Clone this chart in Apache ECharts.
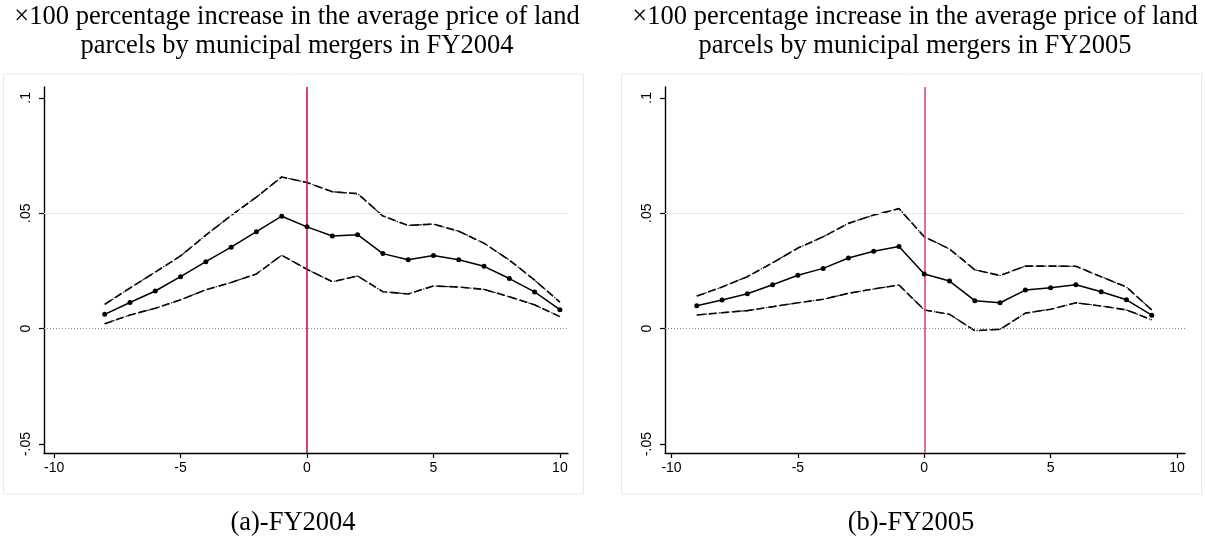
<!DOCTYPE html>
<html>
<head>
<meta charset="utf-8">
<script src="https://cdn.jsdelivr.net/npm/echarts@6/dist/echarts.min.js"></script>
<style>
  html, body { margin: 0; padding: 0; background: #fff; }
  #chart { width: 1205px; height: 548px; }
</style>
</head>
<body>
<div id="chart"></div>
<script>
// Event-study estimates: relative year vs. effect on land price
const yearsFY2004 = [-8, -7, -6, -5, -4, -3, -2, -1, 0, 1, 2, 3, 4, 5, 6, 7, 8, 9, 10];
const estFY2004   = [0.0062, 0.0113, 0.0163, 0.0225, 0.0290, 0.0353, 0.0420, 0.0487, 0.0441, 0.0401, 0.0407, 0.0325, 0.0298, 0.0317, 0.0298, 0.0270, 0.0217, 0.0159, 0.0082];
const upperFY2004 = [0.0105, 0.0176, 0.0245, 0.0315, 0.0405, 0.0490, 0.0570, 0.0657, 0.0633, 0.0593, 0.0585, 0.0488, 0.0447, 0.0453, 0.0422, 0.0370, 0.0297, 0.0210, 0.0115];
const lowerFY2004 = [0.0021, 0.0059, 0.0088, 0.0125, 0.0168, 0.0200, 0.0237, 0.0318, 0.0257, 0.0203, 0.0228, 0.0160, 0.0150, 0.0185, 0.0180, 0.0170, 0.0138, 0.0103, 0.0052];

const yearsFY2005 = [-9, -8, -7, -6, -5, -4, -3, -2, -1, 0, 1, 2, 3, 4, 5, 6, 7, 8, 9];
const estFY2005   = [0.0099, 0.0124, 0.0151, 0.0190, 0.0231, 0.0261, 0.0306, 0.0335, 0.0356, 0.0237, 0.0206, 0.0121, 0.0112, 0.0167, 0.0177, 0.0190, 0.0160, 0.0125, 0.0058];
const upperFY2005 = [0.0141, 0.0180, 0.0225, 0.0285, 0.0349, 0.0398, 0.0456, 0.0492, 0.0520, 0.0398, 0.0345, 0.0255, 0.0230, 0.0271, 0.0271, 0.0270, 0.0225, 0.0180, 0.0081];
const lowerFY2005 = [0.0059, 0.0069, 0.0078, 0.0095, 0.0112, 0.0127, 0.0153, 0.0172, 0.0189, 0.0081, 0.0062, -0.0009, -0.0003, 0.0067, 0.0084, 0.0112, 0.0098, 0.0081, 0.0038];

const xTicks = [-10, -5, 0, 5, 10];
const yTicks = [-0.05, 0, 0.05, 0.1];

const titleLine1 = '\u00d7100 percentage increase in the average price of land';
const titleLine2FY2004 = 'parcels by municipal mergers in FY2004';
const titleLine2FY2005 = 'parcels by municipal mergers in FY2005';
const captionFY2004 = '(a)-FY2004';
const captionFY2005 = '(b)-FY2005';

const pair = (xs, ys) => xs.map((x, i) => [x, ys[i]]);
const fmtY = v => (v === 0 ? '0' : String(v).replace('0.', '.'));

const serif = '"Liberation Serif", "Times New Roman", serif';
const sans = '"Liberation Sans", Arial, sans-serif';

function xAxis(gridIndex, min, max) {
  return {
    type: 'value', gridIndex, min, max,
    axisLine: { show: true, onZero: false, lineStyle: { color: '#000', width: 1.4 } },
    axisTick: { show: true, length: 5, customValues: xTicks, lineStyle: { color: '#000', width: 1.2 } },
    axisLabel: { customValues: xTicks, color: '#000', fontFamily: sans, fontSize: 14, margin: 8 },
    splitLine: { show: false }
  };
}
function yAxis(gridIndex) {
  return {
    type: 'value', gridIndex, min: -0.0539, max: 0.1047,
    axisLine: { show: true, onZero: false, lineStyle: { color: '#000', width: 1.4 } },
    axisTick: { show: true, length: 5, customValues: yTicks, lineStyle: { color: '#000', width: 1.2 } },
    axisLabel: { customValues: yTicks, rotate: 90, color: '#000', fontFamily: sans, fontSize: 14, margin: 11, formatter: fmtY },
    splitLine: { show: false }
  };
}

function panelSeries(idx, xs, est, upper, lower, redColor) {
  const dashed = (data, z) => ({
    type: 'line', xAxisIndex: idx, yAxisIndex: idx, data, symbol: 'none', z,
    lineStyle: { color: '#000', width: 1.6, type: [8, 4] }, silent: true
  });
  const dashDot = (data, z) => ({
    type: 'line', xAxisIndex: idx, yAxisIndex: idx, data, symbol: 'none', z,
    lineStyle: { color: '#111', width: 1.1, type: [4, 2, 1.5, 2], dashOffset: 3 }, silent: true
  });
  return [
    {
      type: 'line', xAxisIndex: idx, yAxisIndex: idx,
      data: pair(xs, est), symbol: 'circle', symbolSize: 5, z: 5,
      itemStyle: { color: '#000' }, lineStyle: { color: '#000', width: 1.5 },
      silent: true,
      markLine: {
        silent: true, symbol: 'none', label: { show: false },
        data: [
          { yAxis: 0.05, lineStyle: { color: '#e0e9ec', width: 1, type: 'solid' } },
          { yAxis: 0, lineStyle: { color: '#888', width: 1, type: [1, 2] } },
          { xAxis: 0, lineStyle: { color: redColor, width: 1.6, type: 'solid' } }
        ]
      }
    },
    dashed(pair(xs, upper), 3), dashDot(pair(xs, upper), 4),
    dashed(pair(xs, lower), 3), dashDot(pair(xs, lower), 4)
  ];
}

const chart = echarts.init(document.getElementById('chart'), null, { renderer: 'canvas' });

const textEl = (text, x, y) => ({
  type: 'text', x, y,
  style: { text, font: '26.5px ' + serif, fill: '#000', textAlign: 'center', textVerticalAlign: 'middle' }
});
const frame = x => ({
  type: 'rect', shape: { x, y: 74, width: 580, height: 420 },
  style: { fill: 'none', stroke: '#e4eaed', lineWidth: 1 }, z: -1
});

chart.setOption({
  animation: false,
  backgroundColor: '#fff',
  grid: [
    { left: 44, top: 87, width: 524, height: 366 },
    { left: 665, top: 87, width: 520, height: 366 }
  ],
  xAxis: [xAxis(0, -10.4, 10.32), xAxis(1, -10.257, 10.316)],
  yAxis: [yAxis(0), yAxis(1)],
  graphic: [
    frame(3.5), frame(621.5),
    textEl(titleLine1, 297, 17), textEl(titleLine2FY2004, 297, 46),
    textEl(titleLine1, 915, 17), textEl(titleLine2FY2005, 915, 46),
    textEl(captionFY2004, 293, 523), textEl(captionFY2005, 911, 523)
  ],
  series: [
    ...panelSeries(0, yearsFY2004, estFY2004, upperFY2004, lowerFY2004, '#cc1646'),
    ...panelSeries(1, yearsFY2005, estFY2005, upperFY2005, lowerFY2005, '#de4a72')
  ]
});
</script>
</body>
</html>
